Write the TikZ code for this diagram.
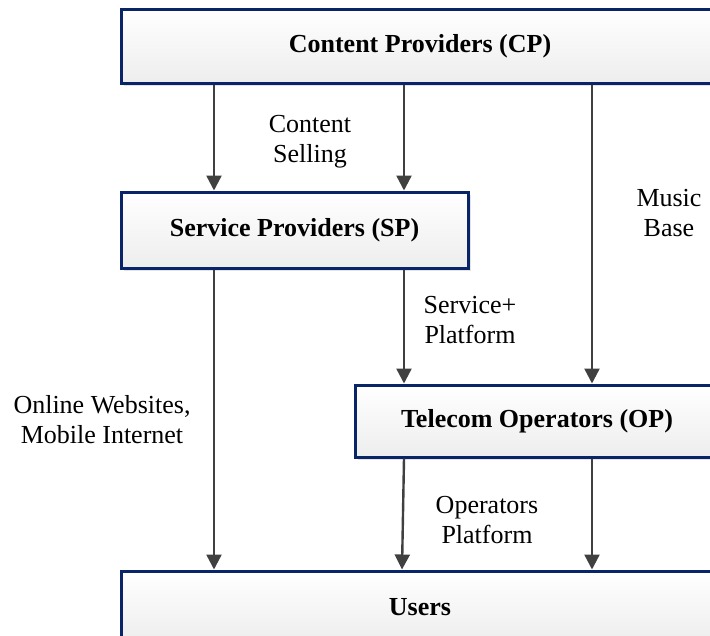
\documentclass[tikz,border=0pt]{standalone}
\usepackage{fontspec}
\setmainfont{Liberation Serif}
\usetikzlibrary{arrows.meta,shadows}
\definecolor{navy}{RGB}{10,36,104}
\definecolor{arr}{RGB}{64,64,64}
\tikzset{
  box/.style={draw=navy, line width=3pt, top color=white, bottom color=black!7,
    drop shadow={shadow xshift=3pt, shadow yshift=-3pt, fill=black!18, opacity=0.6},
    font=\fontsize{26}{30}\selectfont\bfseries, inner sep=0pt},
  conn/.style={draw=arr, line width=2.4pt, -{Triangle[length=15pt,width=15pt]}},
  lbl/.style={font=\fontsize{26}{30}\selectfont, align=center, anchor=base, inner sep=0pt}
}
\begin{document}
\begin{tikzpicture}[x=1pt,y=-1pt]
\useasboundingbox (0,0) rectangle (710,635);
\begin{scope}
\clip (0,0) rectangle (710,635);
\node[box, minimum width=598pt, minimum height=74pt] (cp) at (420,46) {Content Providers (CP)};
\node[box, minimum width=347pt, minimum height=76pt] (sp) at (294.5,230) {Service Providers (SP)};
\node[box, minimum width=364pt, minimum height=72pt] (op) at (537,421) {Telecom Operators (OP)};
\node[box, minimum width=598pt, minimum height=72pt] (users) at (420,607) {Users};

\coordinate (xa) at (214,0);
\coordinate (xb) at (404,0);
\coordinate (xc) at (402,0);
\coordinate (xd) at (592,0);

\draw[conn] (cp.south -| xa) -- (sp.north -| xa);
\draw[conn] (cp.south -| xb) -- (sp.north -| xb);
\draw[conn] (cp.south -| xd) -- (op.north -| xd);
\draw[conn] (sp.south -| xa) -- (users.north -| xa);
\draw[conn] (sp.south -| xb) -- (op.north -| xb);
\draw[conn] (op.south -| xb) -- (users.north -| xc);
\draw[conn] (op.south -| xd) -- (users.north -| xd);

\node[lbl] (l1) at (310,162) {Content\\Selling};
\node[lbl] (l2) at (669,236) {Music\\Base};
\node[lbl] (l3) at (470,343) {Service+\\Platform};
\node[lbl] (l4) at (102,443) {Online Websites,\\Mobile Internet};
\node[lbl] (l5) at (487,543) {Operators\\Platform};
\end{scope}
\end{tikzpicture}
\end{document}
